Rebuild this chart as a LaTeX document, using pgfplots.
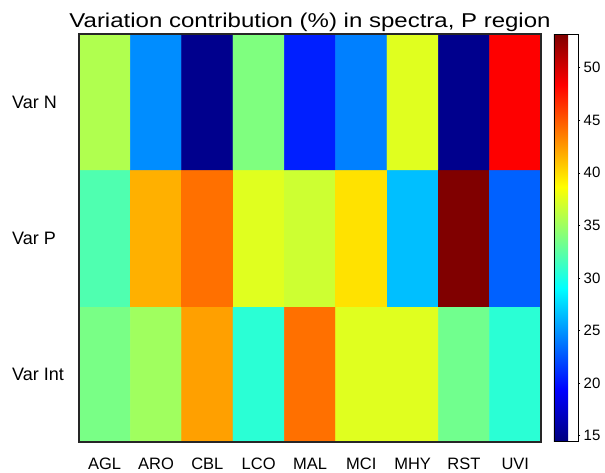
\documentclass[border=0pt]{standalone}
\usepackage{pgfplots}
\pgfplotsset{compat=1.18}
\usepackage{pgfplotstable}
\usepackage{fontspec}
\setmainfont{Liberation Sans}
\newfontfamily\titlefont{Liberation Sans}[FakeStretch=1.2]
\pgfplotstableread{
x y c
0 0 33.6
1 0 35.1
2 0 42.3
3 0 30.6
4 0 44.1
5 0 37.5
6 0 37.5
7 0 33.3
8 0 30.6
0 1 32.0
1 1 41.7
2 1 44.1
3 1 37.5
4 1 36.8
5 1 39.8
6 1 26.6
7 1 53.2
8 1 23.0
0 2 35.7
1 2 24.7
2 2 15.0
3 2 33.85
4 2 20.5
5 2 24.2
6 2 37.5
7 2 15.0
8 2 48.4
}\datatable
\begin{document}
\begin{tikzpicture}
\begin{axis}[
  at={(0pt,0pt)}, anchor=south west,
  scale only axis, width=462pt, height=408pt,
  xmin=-0.5, xmax=8.5, ymin=-0.5, ymax=2.5,
  axis on top,
  axis line style={line width=1.1pt, black!85},
  colormap/jet,
  point meta min=14.5, point meta max=53.2,
  xtick={0,1,2,3,4,5,6,7,8},
  xticklabels={AGL,ARO,CBL,LCO,MAL,MCI,MHY,RST,UVI},
  ytick={0,1,2},
  yticklabels={Var Int,Var P,Var N},
  major tick length=0pt,
  xticklabel style={font=\fontsize{16.5}{19}\selectfont, anchor=base, inner sep=0pt, yshift=-28pt},
  yticklabel style={font=\fontsize{18}{21}\selectfont, anchor=west, inner sep=0pt, xshift=-67pt},
  title={Variation contribution (\%) in spectra, P region},
  title style={font=\titlefont\fontsize{20}{24}\selectfont, at={(0.5,1)}, anchor=base, inner sep=0pt, yshift=0pt},
  colorbar right,
  colorbar shift/.style={xshift=13pt},
  colorbar style={
    at={(parent axis.north east)}, anchor=north west,
    scale only axis, width=24pt, height=407pt,
    ytick={15,20,25,30,35,40,45,50},
    axis line style={line width=0.6pt, black},
    tick align=outside, ytick pos=right,
    major tick length=2.5pt,
    tick style={black, line width=0.5pt},
    yticklabel style={font=\fontsize{15}{18}\selectfont, inner sep=0pt, xshift=3pt},
    /pgf/number format/assume math mode=true,
  },
]
\addplot[matrix plot*, mesh/cols=9, mesh/ordering=x varies, point meta=explicit] table[x=x, y=y, meta=c] {\datatable};
\end{axis}
\pgfresetboundingbox
\useasboundingbox (-79pt,-31pt) rectangle (526pt,442pt);
\end{tikzpicture}
\end{document}
